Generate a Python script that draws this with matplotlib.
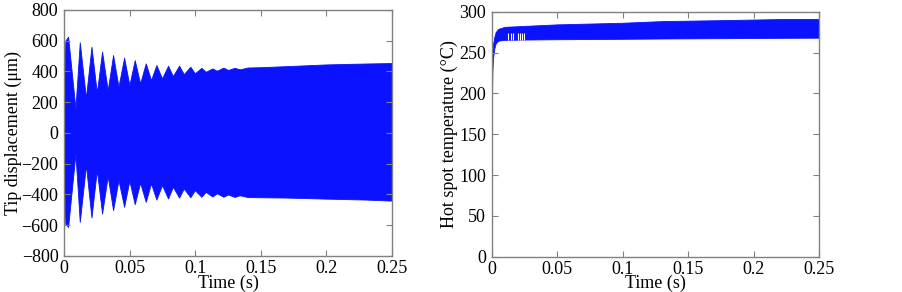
import numpy as np
import matplotlib
matplotlib.use('Agg')
import matplotlib.pyplot as plt

# --- tip displacement envelope (beating) ---
disp_t = [0.0, 0.001, 0.0031, 0.0087, 0.0120, 0.0167, 0.0209, 0.0250, 0.0290, 0.0333,
          0.0374, 0.0415, 0.0458, 0.0498, 0.0539, 0.0580, 0.0623, 0.0663, 0.0704, 0.0747,
          0.0793, 0.0830, 0.0877, 0.0913, 0.0963, 0.0997, 0.1047, 0.1080, 0.1131, 0.1165,
          0.1215, 0.1250, 0.1300, 0.1340, 0.1400, 0.1500, 0.1700, 0.2000, 0.2300, 0.2500]
disp_hi = [300, 600, 626, 160, 590, 229, 561, 262, 529, 279,
           507, 301, 490, 312, 474, 323, 453, 344, 442, 355,
           437, 370, 438, 383, 431, 388, 424, 398, 420, 405,
           425, 410, 424, 414, 426, 428, 435, 446, 452, 455]
disp_lo = [-300, -590, -611, -134, -578, -209, -550, -241, -524, -281,
           -502, -307, -480, -311, -463, -324, -448, -328, -433, -339,
           -426, -350, -420, -361, -418, -372, -415, -383, -413, -392,
           -415, -400, -416, -405, -417, -418, -420, -427, -433, -440]

# --- hot spot temperature band ---
temp_t = [0.0, 0.0005, 0.001, 0.002, 0.003, 0.005, 0.01, 0.03, 0.05, 0.1, 0.13, 0.18, 0.22, 0.25]
temp_hi = [232, 250, 260, 269, 275, 279, 281.5, 283, 284.5, 286.5, 288.5, 289.8, 291, 291]
temp_lo = [174, 225, 243, 255, 261, 264.5, 265.5, 266, 266.3, 266.8, 267.2, 267.6, 268, 268.2]
gap_t = [0.0127, 0.0145, 0.0165, 0.0203, 0.0216, 0.0234, 0.0249]

x_ticks = [0, 0.05, 0.1, 0.15, 0.2, 0.25]
x_ticklabels = ['0', '0.05', '0.1', '0.15', '0.2', '0.25']

blue = '#0a12ff'
spine = '#808080'
fs = 13

plt.rcParams['font.family'] = ['Liberation Serif', 'DejaVu Serif']
plt.rcParams['font.size'] = fs

fig = plt.figure(figsize=(9.03, 2.92), dpi=100)
ax1 = fig.add_axes([0.0709, 0.1233, 0.3632, 0.8425])
ax2 = fig.add_axes([0.5445, 0.1209, 0.3628, 0.8390])


def style(ax):
    for s in ax.spines.values():
        s.set_color(spine)
        s.set_linewidth(1.0)
    ax.tick_params(direction='in', top=True, right=True, length=4,
                   color=spine, labelsize=fs)
    ax.tick_params(axis='x', pad=3)
    ax.tick_params(axis='y', pad=4)
    ax.set_xticks(x_ticks)
    ax.set_xticklabels(x_ticklabels)
    ax.set_xlim(0, 0.25)
    ax.set_xlabel('Time (s)', labelpad=-2)


ax1.fill_between(disp_t, disp_lo, disp_hi, color=blue, linewidth=0.6, edgecolor=blue)
ax1.set_ylim(-800, 800)
ax1.set_yticks(np.arange(-800, 801, 200))
ax1.set_ylabel('Tip displacement (\u03bcm)', labelpad=0)
style(ax1)

ax2.fill_between(temp_t, temp_lo, temp_hi, color=blue, linewidth=0.6, edgecolor=blue)
ax2.vlines(gap_t, 265, 273.5, color='white', linewidth=0.8)
ax2.set_ylim(0, 300)
ax2.set_yticks(np.arange(0, 301, 50))
ax2.set_ylabel('Hot spot temperature (\u00b0C)', labelpad=1)
style(ax2)

fig.savefig('out.png', dpi=100)
